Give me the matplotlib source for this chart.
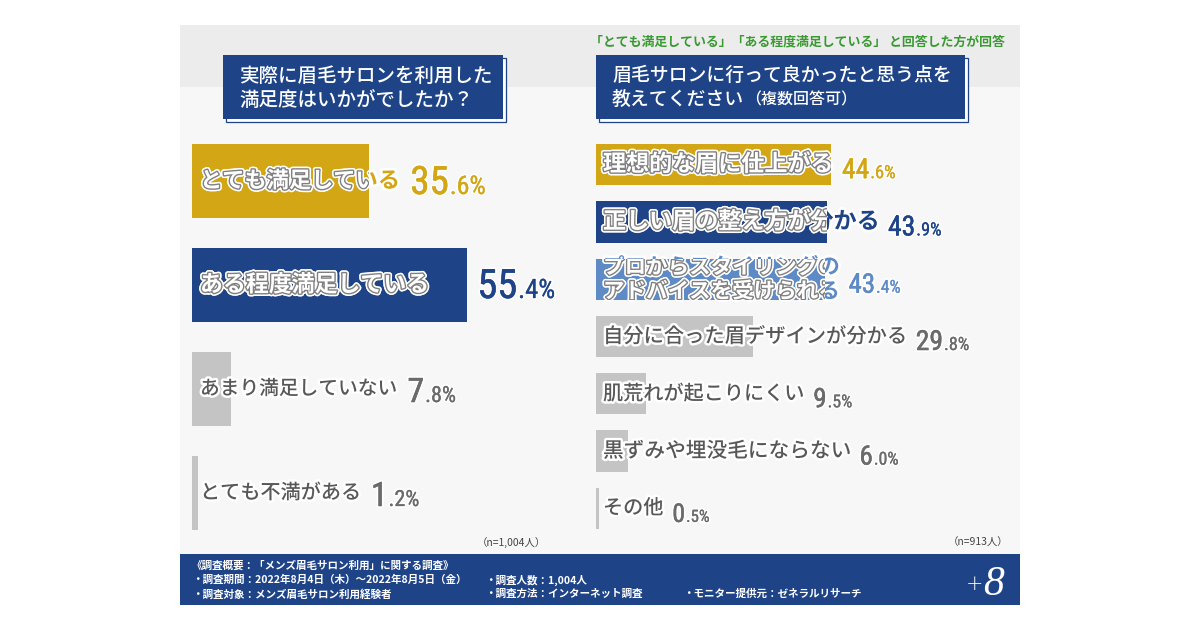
import matplotlib
matplotlib.use("Agg")
import matplotlib.pyplot as plt
import matplotlib.patheffects as pe
from matplotlib.patches import Rectangle
from matplotlib import font_manager as fm
from matplotlib.transforms import offset_copy

# ---------------- data ----------------
left_categories = ["とても満足している", "ある程度満足している", "あまり満足していない", "とても不満がある"]
left_values = [35.6, 55.4, 7.8, 1.2]

right_categories = ["理想的な眉に仕上がる", "正しい眉の整え方が分かる",
                    "プロからスタイリングの\nアドバイスを受けられる",
                    "自分に合った眉デザインが分かる", "肌荒れが起こりにくい",
                    "黒ずみや埋没毛にならない", "その他"]
right_values = [44.6, 43.9, 43.4, 29.8, 9.5, 6.0, 0.5]

left_title = ["実際に眉毛サロンを利用した", "満足度はいかがでしたか？"]
right_title = ["眉毛サロンに行って良かったと思う点を", "教えてください", "（複数回答可）"]
note_text = "「とても満足している」「ある程度満足している」 と回答した方が回答"
left_n = "（n=1,004人）"
right_n = "（n=913人）"
footer_lines = ["《調査概要：「メンズ眉毛サロン利用」に関する調査》",
                "・調査期間：2022年8月4日（木）～2022年8月5日（金）",
                "・調査対象：メンズ眉毛サロン利用経験者"]
footer_col2 = ["・調査人数：1,004人", "・調査方法：インターネット調査"]
footer_col3 = "・モニター提供元：ゼネラルリサーチ"

# ---------------- style ----------------
GOLD = "#d2a615"
NAVY = "#1e4487"
LBLUE = "#5e8bc6"
GRAYBAR = "#c4c4c4"
GRAYTXT = "#585858"
GRAYVAL = "#6b6b6b"

left_colors = [GOLD, NAVY, GRAYBAR, GRAYBAR]
left_valcolors = [GOLD, NAVY, GRAYVAL, GRAYVAL]
left_colored = [True, True, False, False]
left_lsizes = [16, 16.5, 14.2, 14.5]
left_big = [29, 30, 25, 25]

right_colors = [GOLD, NAVY, LBLUE, GRAYBAR, GRAYBAR, GRAYBAR, GRAYBAR]
right_valcolors = [GOLD, NAVY, LBLUE, GRAYVAL, GRAYVAL, GRAYVAL, GRAYVAL]
right_colored = [True, True, True, False, False, False, False]
right_lsizes = [16.6, 16.6, 15.5, 14.6, 14.5, 14.9, 14.5]
right_big = [20.5, 20.5, 20, 20.5, 20, 20, 19]

plt.rcParams['font.family'] = ['Noto Sans CJK JP', 'DejaVu Sans']


def has_font(name):
    try:
        f = fm.findfont(fm.FontProperties(family=name), fallback_to_default=False)
        return f is not None
    except Exception:
        return False


def pick_number_font():
    for name, sc in [('Liberation Sans Narrow', 1.0), ('Roboto Condensed', 0.97),
                     ('Open Sans Condensed', 1.0), ('Arial Narrow', 1.0)]:
        if has_font(name):
            return {'family': name, 'weight': 'normal'}, sc
    cands = []
    for f in fm.fontManager.ttflist:
        nm = (f.name + ' ' + f.fname).lower()
        st = str(f.stretch).lower()
        if ('condensed' in st or 'narrow' in nm or 'condensed' in nm) \
                and f.style == 'normal' and 'mono' not in nm and 'serif' not in nm:
            cands.append(f)
    if cands:
        def wkey(f):
            w = f.weight if isinstance(f.weight, int) else 400
            return abs(w - 450)
        cands.sort(key=wkey)
        return {'fname': cands[0].fname}, 0.97
    return {'family': 'Roboto', 'weight': 'medium'}, 0.92


NUM_KW, NUM_SCALE = pick_number_font()


def numprops(size):
    return fm.FontProperties(size=size, **NUM_KW)


W, H = 1200, 630
fig = plt.figure(figsize=(12, 6.3), dpi=100, facecolor='white')

# background / decoration axes in pixel coordinates
bg = fig.add_axes([0, 0, 1, 1], zorder=0)
bg.set_xlim(0, W)
bg.set_ylim(H, 0)
bg.axis('off')

bg.add_patch(Rectangle((180, 25), 840, 580, facecolor='#f7f7f7', edgecolor='none'))
bg.add_patch(Rectangle((180, 25), 840, 62, facecolor='#ececec', edgecolor='none'))
bg.add_patch(Rectangle((180, 554), 840, 51, facecolor=NAVY, edgecolor='none'))

# header boxes
for (x0, x1) in [(223, 503), (596, 965)]:
    bg.add_patch(Rectangle((x0 + 3, 58), x1 - x0, 64, facecolor='white',
                           edgecolor=NAVY, linewidth=0.9))
    bg.add_patch(Rectangle((x0, 55), x1 - x0, 64, facecolor=NAVY, edgecolor='none'))

bg.text(239, 76, left_title[0], color='white', fontsize=14, fontweight='medium',
        va='center', ha='left')
bg.text(239, 100, left_title[1], color='white', fontsize=14, fontweight='medium',
        va='center', ha='left')
bg.text(612, 75, right_title[0], color='white', fontsize=13.6, fontweight='medium',
        va='center', ha='left')
bg.text(612, 99, right_title[1], color='white', fontsize=13.6, fontweight='medium',
        va='center', ha='left')
bg.text(745, 100, right_title[2], color='white', fontsize=11.5, fontweight='medium',
        va='center', ha='left')

bg.text(1005, 41, note_text, color='#3a9a32', fontsize=9.3, fontweight='bold',
        va='center', ha='right')

bg.text(546, 543, left_n, color='#444444', fontsize=7.5, va='center', ha='right')
bg.text(1008, 543, right_n, color='#444444', fontsize=7.5, va='center', ha='right')

for k, s in enumerate(footer_lines):
    bg.text(192, 566 + 14 * k, s, color='white', fontsize=7.6, fontweight='bold',
            va='center', ha='left')
for k, s in enumerate(footer_col2):
    bg.text(485, 580 + 14 * k, s, color='white', fontsize=7.6, fontweight='bold',
            va='center', ha='left')
bg.text(683, 594, footer_col3, color='white', fontsize=7.6, fontweight='bold',
        va='center', ha='left')

bg.text(975, 584, "+", color='white', fontsize=15, va='center', ha='center',
        family=['DejaVu Sans'], fontweight='light')
bg.text(994, 585, "8", color='white', fontsize=30, va='center', ha='center',
        family=['Liberation Serif', 'DejaVu Serif'], style='italic')

# ---------------- chart axes ----------------
axL = fig.add_axes([192 / W, (H - 545) / H, 372.75 / W, 416 / H], zorder=2)
axL.set_xlim(0, 75)
axL.set_ylim(len(left_values) - 0.5, -0.5)
axL.axis('off')
axL.patch.set_alpha(0)

axR = fig.add_axes([596 / W, (H - 537) / H, 421.6 / W, 401 / H], zorder=2)
axR.set_xlim(0, 80)
axR.set_ylim(len(right_values) - 0.5, -0.5)
axR.axis('off')
axR.patch.set_alpha(0)

barsL = axL.barh(range(len(left_values)), left_values, height=0.71,
                 color=left_colors, zorder=1)
barsR = axR.barh(range(len(right_values)), right_values, height=0.72,
                 color=right_colors, zorder=1)

halo = [pe.Stroke(linewidth=4, foreground='white'), pe.Normal()]
white_fx = [pe.Stroke(linewidth=4.2, foreground='white'),
            pe.Stroke(linewidth=2.0, foreground='#808080'), pe.Normal()]


def draw_labels(ax, bars, cats, colors, colored, sizes, dx):
    tr = offset_copy(ax.transData, fig=fig, x=dx, y=0, units='dots')
    out = []
    for i, (lab, c, col, fs) in enumerate(zip(cats, colors, colored, sizes)):
        if col:
            t = ax.text(0, i, lab, transform=tr, fontsize=fs, fontweight='bold',
                        color=c, va='center', ha='left', path_effects=halo, zorder=3)
            tw = ax.text(0, i, lab, transform=tr, fontsize=fs, fontweight='bold',
                         color='white', va='center', ha='left',
                         path_effects=white_fx, zorder=4)
            tw.set_clip_path(bars[i])
            tw.set_clip_on(True)
        else:
            t = ax.text(0, i, lab, transform=tr, fontsize=fs, fontweight='medium',
                        color=GRAYTXT, va='center', ha='left',
                        path_effects=[pe.Stroke(linewidth=3.5, foreground='white'),
                                      pe.Normal()], zorder=3)
        out.append(t)
    return out


labL = draw_labels(axL, barsL, left_categories, left_colors, left_colored, left_lsizes, 8)
labR = draw_labels(axR, barsR, right_categories, right_colors, right_colored, right_lsizes, 7)

fig.canvas.draw()
rend = fig.canvas.get_renderer()


def val_fx(c, w):
    fx = [pe.Stroke(linewidth=w + 2.4, foreground='white')]
    if w > 0:
        fx.append(pe.Stroke(linewidth=w, foreground=c))
    fx.append(pe.Normal())
    return fx


pending = []


def place_big(ax, labels, values, vcolors, bigsizes, base_off, gap):
    for i, (t, v, vc, bs) in enumerate(zip(labels, values, vcolors, bigsizes)):
        bb = t.get_window_extent(rend)
        bar_x = ax.transData.transform((v, i))[0]
        cy = H - ax.transData.transform((0, i))[1]
        x = max(bb.x1, bar_x) + gap
        y = cy + base_off
        ip, dp = f"{v:.1f}".split('.')
        tb = bg.text(x, y, ip, fontproperties=numprops(bs * NUM_SCALE), color=vc,
                     va='baseline', ha='left', path_effects=val_fx(vc, 0.4), zorder=5)
        pending.append((tb, '.' + dp + '%', y, vc, bs))


place_big(axL, labL, left_values, left_valcolors, left_big, 13, 10)
place_big(axR, labR, right_values, right_valcolors, right_big, 13.5, 9)

fig.canvas.draw()
for tb, s, y, vc, bs in pending:
    x1 = tb.get_window_extent(rend).x1
    bg.text(x1 + 1, y, s, fontproperties=numprops(bs * 0.66 * NUM_SCALE), color=vc,
            va='baseline', ha='left', path_effects=val_fx(vc, 0.2), zorder=5)

fig.savefig("out.png", dpi=100, facecolor='white')
